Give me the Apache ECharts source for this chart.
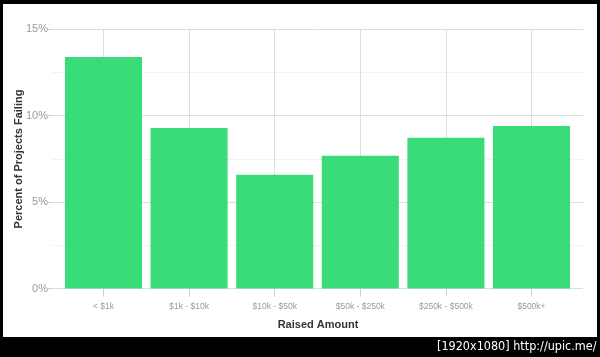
<!DOCTYPE html>
<html>
<head>
<meta charset="utf-8">
<script src="https://cdn.jsdelivr.net/npm/echarts@6/dist/echarts.min.js"></script>
<style>
html,body{margin:0;padding:0;background:#000;}
#chart{width:600px;height:357px;}
</style>
</head>
<body>
<div id="chart"></div>
<script>
const categories = ['< $1k', '$1k - $10k', '$10k - $50k', '$50k - $250k', '$250k - $500k', '$500k+'];
const percentFailing = [13.38, 9.28, 6.57, 7.67, 8.71, 9.39];
const yTicks = [0, 5, 10, 15];
const xTitle = 'Raised Amount';
const yTitle = 'Percent of Projects Failing';
const watermark = '[1920x1080] http://upic.me/';

const chart = echarts.init(document.getElementById('chart'), null, {renderer: 'canvas'});
const font = '"Liberation Sans", Arial, sans-serif';
const gray = '#9a9a9a';
const gridColor = '#dedede';

chart.setOption({
  backgroundColor: '#000',
  animation: false,
  graphic: [
    {type: 'rect', z: -100, shape: {x: 3, y: 4, width: 594, height: 333}, style: {fill: '#fff'}},
    {type: 'text', z: 100, left: 437, top: 340, style: {text: watermark, fill: '#fff', font: '12.5px "DejaVu Sans Condensed", "Liberation Sans", sans-serif'}},
    {type: 'text', z: 100, x: 318, y: 325, style: {text: xTitle, fill: '#333', font: 'bold 11px ' + font, textAlign: 'center', textVerticalAlign: 'middle'}},
    {type: 'text', z: 100, x: 19, y: 159, rotation: Math.PI / 2, style: {text: yTitle, fill: '#333', font: 'bold 11px ' + font, textAlign: 'center', textVerticalAlign: 'middle'}}
  ],
  grid: [
    {left: 52, right: 17, top: 29, bottom: 68.5},
    {left: 60.7, right: 25.7, top: 29, bottom: 68.5}
  ],
  xAxis: [
    {gridIndex: 0, type: 'category', data: categories, show: false},
    {
      gridIndex: 1, type: 'category', data: categories,
      axisLine: {show: false},
      axisTick: {show: true, alignWithLabel: true, length: 8, lineStyle: {color: '#cfcfcf'}},
      splitLine: {show: true, alignWithLabel: true, lineStyle: {color: gridColor, width: 1}},
      axisLabel: {color: gray, fontSize: 8.5, fontFamily: font, margin: 14, interval: 0}
    }
  ],
  yAxis: [
    {
      gridIndex: 0, type: 'value', min: yTicks[0], max: yTicks[yTicks.length - 1], interval: 5,
      axisLine: {show: false},
      axisTick: {show: true, length: 4, lineStyle: {color: '#cfcfcf'}},
      axisLabel: {color: gray, fontSize: 11, fontFamily: font, margin: 4, formatter: v => v + '%'},
      splitLine: {show: true, lineStyle: {color: gridColor, width: 1}},
      minorTick: {show: false, splitNumber: 2},
      minorSplitLine: {show: true, lineStyle: {color: '#f3f3f3', width: 1}}
    },
    {gridIndex: 1, type: 'value', min: 0, max: 15, show: false, splitLine: {show: false}}
  ],
  series: [{
    type: 'bar',
    xAxisIndex: 1, yAxisIndex: 1,
    data: percentFailing,
    barCategoryGap: '10%',
    itemStyle: {color: '#3adb79'}
  }]
});
</script>
</body>
</html>
